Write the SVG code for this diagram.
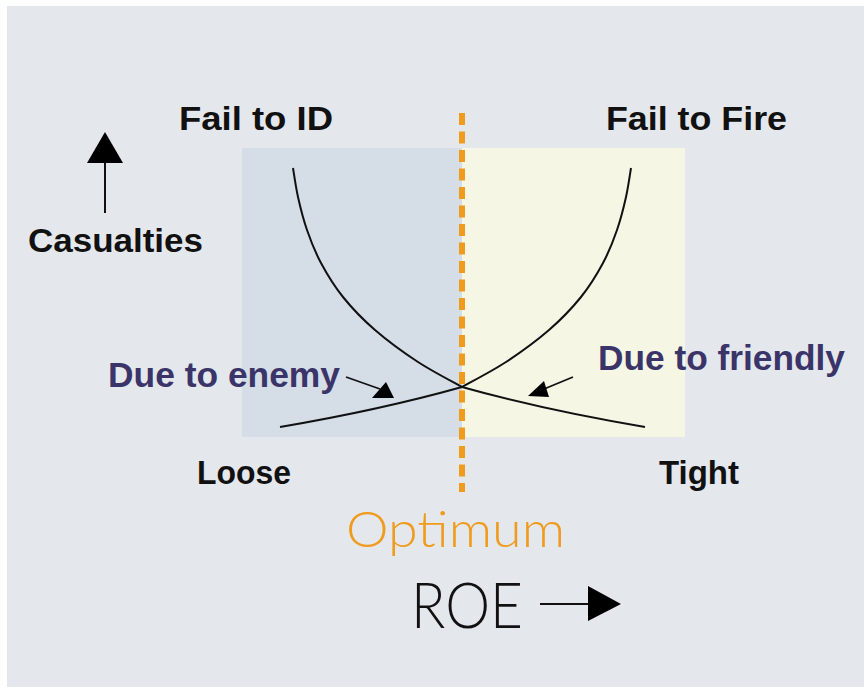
<svg xmlns="http://www.w3.org/2000/svg" width="864" height="691" viewBox="0 0 864 691">
<defs>
<style>
.lbl{font-family:"Liberation Sans",Arial,sans-serif;font-weight:bold;font-size:33px;fill:#111;}
.due{font-family:"Liberation Sans",Arial,sans-serif;font-weight:bold;font-size:35px;fill:#3a3468;}
.light{font-family:Lato,"Open Sans",sans-serif;font-weight:300;}
.curve{fill:none;stroke:#111;stroke-width:2;}
.ptr{fill:none;stroke:#111;stroke-width:1.8;}
.head{fill:#000;}
</style>
</defs>
<rect x="0" y="0" width="864" height="691" fill="#ffffff"/>
<rect x="7" y="6" width="857" height="681" fill="#e4e7ec"/>
<g id="zone-loose"><rect x="242" y="148" width="220" height="289" fill="#d5dde7"/></g>
<g id="zone-tight"><rect x="462" y="148" width="223" height="289" fill="#f5f6e4"/></g>
<g id="curves">
<path class="curve" d="M293,168 C293.8,172.8 295.7,186.7 298,197 C300.3,207.3 303.2,219 307,230 C310.8,241 315,251.8 321,263 C327,274.2 334,285.8 343,297 C352,308.2 362.5,319.2 375,330 C387.5,340.8 403.5,352.5 418,362 C432.5,371.5 454.7,382.8 462,387"/>
<path class="curve" d="M280,427 Q380,410 462,387"/>
<path class="curve" d="M631,168 C630.2,172.8 628.3,186.7 626,197 C623.7,207.3 620.8,219 617,230 C613.2,241 609,251.8 603,263 C597,274.2 590,285.8 581,297 C572,308.2 561.5,319.2 549,330 C536.5,340.8 520.5,352.5 506,362 C491.5,371.5 469.3,382.8 462,387"/>
<path class="curve" d="M462,387 Q544,410 645,427"/>
</g>
<g id="optimum-line"><line x1="462" y1="113" x2="462" y2="492" stroke="#ef9b1d" stroke-width="6" stroke-dasharray="12,6.5"/></g>
<g id="connectors">
<line class="ptr" x1="346" y1="377" x2="380" y2="389"/>
<path class="head" d="M372,398 L386,382 L394,398 Z"/>
<line class="ptr" x1="573" y1="377" x2="544" y2="389"/>
<path class="head" d="M544,381 L549,397 L528,396 Z"/>
<line x1="105" y1="160" x2="105" y2="213" stroke="#111" stroke-width="2"/>
<path class="head" d="M105,132 L123,163 L87,163 Z"/>
<line x1="540" y1="604" x2="590" y2="604" stroke="#111" stroke-width="2"/>
<path class="head" d="M588,586 L621,604 L588,621 Z"/>
</g>
<g id="labels">
<text class="lbl" x="179" y="130" textLength="154" lengthAdjust="spacingAndGlyphs">Fail to ID</text>
<text class="lbl" x="606" y="130" textLength="181" lengthAdjust="spacingAndGlyphs">Fail to Fire</text>
<text class="lbl" x="28" y="252" textLength="175" lengthAdjust="spacingAndGlyphs">Casualties</text>
<text class="lbl" x="197" y="484" textLength="94" lengthAdjust="spacingAndGlyphs">Loose</text>
<text class="lbl" x="659" y="484" textLength="80" lengthAdjust="spacingAndGlyphs">Tight</text>
<text class="due" x="108" y="387" textLength="232" lengthAdjust="spacingAndGlyphs">Due to enemy</text>
<text class="due" x="598" y="370" textLength="247" lengthAdjust="spacingAndGlyphs">Due to friendly</text>
<text class="light" x="346" y="547" font-size="50" fill="#ef9b1d" textLength="219" lengthAdjust="spacingAndGlyphs">Optimum</text>
<text class="light" x="411" y="628" font-size="64" fill="#111" textLength="112" lengthAdjust="spacingAndGlyphs">ROE</text>
</g>
</svg>
